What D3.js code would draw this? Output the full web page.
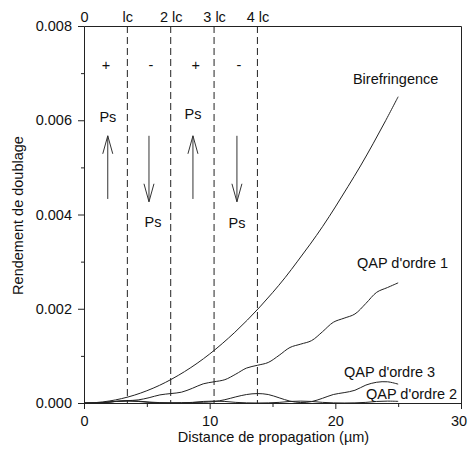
<!DOCTYPE html>
<html><head><meta charset="utf-8">
<script src="https://cdn.jsdelivr.net/npm/d3@7"></script>
<style>
html,body{margin:0;padding:0;background:#fff;}
svg{display:block;}
text{font-family:"Liberation Sans",Arial,sans-serif;fill:#111;}
</style></head>
<body>
<svg id="chart" width="468" height="459"></svg>
<script>
// ---- data ----
const lc = 3.45; // coherence length (µm)
const topTickValues = [0, 1, 2, 3, 4];
const topTickLabels = ["0", "lc", "2 lc", "3 lc", "4 lc"];
const xTicks = [0, 10, 20, 30];
const xMinor = [5, 15, 25];
const yTicks = [0, 0.002, 0.004, 0.006, 0.008];
const yMinor = [0.001, 0.003, 0.005, 0.007];

const biréX = [0,1,2,3,4,5,6,7,8,9,10,11,12,13,14,15,16,17,18,19,20,21,22,23,24,25];
const biréY = [0,0.0000104,0.0000416,0.0000936,0.000166,0.00026,0.000374,0.00051,0.000666,0.000842,
  0.00104,0.00126,0.0015,0.00176,0.00204,0.00234,0.00266,0.00301,0.00337,0.00375,
  0.00416,0.00459,0.00503,0.0055,0.00599,0.0065];

const qapX = [0,0.86,1.73,2.59,3.45,4.31,5.18,6.04,6.9,7.76,8.63,9.49,10.35,11.21,12.08,12.94,
  13.8,14.66,15.53,16.39,17.25,18.11,18.98,19.84,20.7,21.56,22.43,23.29,24.15,25.0];
const qap1 = [0,0.0000011,0.0000125,0.0000364,0.00005,0.0000657,0.0001125,0.0001718,0.0002,0.00023,
  0.0003125,0.000407,0.00045,0.000495,0.0006125,0.000742,0.0008,0.00086,0.0010125,0.001178,
  0.00125,0.001324,0.0015125,0.001713,0.0018,0.001889,0.0021125,0.002349,0.00245,0.00255];
const qap3 = [0,0.000003,0.000013,0.000036,0.00005,0.00004,0.00002,0.000008,0.000005,0.000006,
  0.00001,0.000016,0.00003,0.00007,0.00013,0.00018,0.0002,0.00018,0.00011,0.00004,
  0.00001,0.00003,0.0001,0.00018,0.00022,0.00027,0.00038,0.00044,0.00045,0.0004];
const qap2 = [0,0.000003,0.000013,0.000033,0.00004,0.000033,0.000013,0.000003,0,0.000003,
  0.000013,0.000033,0.00004,0.000033,0.000013,0.000003,0,0.000003,0.000013,0.000033,
  0.00004,0.000033,0.000013,0.000003,0,0.000003,0.000013,0.000033,0.00004,0.000035];

const seriesLabels = [
  {text:"Birefringence", x:21.4, y:0.00688},
  {text:"QAP d'ordre 1", x:21.72, y:0.00297},
  {text:"QAP d'ordre 3", x:20.69, y:0.000664},
  {text:"QAP d'ordre 2", x:22.44, y:0.00019}
];
const signs = [{t:"+", x:1.75, y:0.00717},{t:"-", x:5.33, y:0.00717},{t:"+", x:8.89, y:0.00717},{t:"-", x:12.33, y:0.00717}];
const psLabels = [{x:1.9, y:0.00607},{x:5.49, y:0.00384},{x:8.67, y:0.00613},{x:12.17, y:0.00382}];
const arrows = [
  {x:1.89, from:0.00433, to:0.00567},
  {x:5.17, from:0.00567, to:0.00427},
  {x:8.67, from:0.00433, to:0.00567},
  {x:12.17, from:0.00567, to:0.00427}
];

// ---- scales ----
const svg = d3.select("#chart");
const x = d3.scaleLinear().domain([0, 30]).range([84, 461]);
const y = d3.scaleLinear().domain([0, 0.008]).range([403, 26]);
const stroke = "#222";
const fs = 14.5;

// axes
const gx = svg.append("g").attr("transform", `translate(0,${y(0)})`)
  .call(d3.axisBottom(x).tickValues(xTicks).tickFormat(d3.format("d")).tickSize(6).tickPadding(7).tickSizeOuter(0));
gx.selectAll(".tick text").filter(d => d === 30).attr("dx", -2.5);
svg.append("g").attr("transform", `translate(0,${y(0)})`)
  .call(d3.axisBottom(x).tickValues(xMinor).tickFormat("").tickSize(4).tickSizeOuter(0));
const gy = svg.append("g").attr("transform", `translate(${x(0)},0)`)
  .call(d3.axisLeft(y).tickValues(yTicks).tickFormat(d3.format(".3f")).tickSize(6).tickPadding(6).tickSizeOuter(0));
svg.append("g").attr("transform", `translate(${x(0)},0)`)
  .call(d3.axisLeft(y).tickValues(yMinor).tickFormat("").tickSize(3).tickSizeOuter(0));
const xTop = d3.scaleLinear().domain([0, 30 / lc]).range([84, 461]);
svg.append("g").attr("transform", `translate(0,${y(0.008)})`)
  .call(d3.axisTop(xTop).tickValues(topTickValues).tickFormat((d, i) => topTickLabels[i]).tickSize(0).tickPadding(4).tickSizeOuter(0));
svg.append("g").attr("transform", `translate(${x(30)},0)`)
  .call(d3.axisRight(y).tickValues([]).tickSizeOuter(0));

svg.selectAll(".domain, .tick line").attr("stroke", stroke).attr("stroke-width", 1);
svg.selectAll(".tick text").attr("font-size", fs).attr("font-family", "Liberation Sans, Arial, sans-serif").attr("fill", "#111");

// dashed domain boundaries
svg.append("g").selectAll("line").data(topTickValues.slice(1)).join("line")
  .attr("x1", d => xTop(d)).attr("x2", d => xTop(d))
  .attr("y1", y(0.008)).attr("y2", y(0))
  .attr("stroke", stroke).attr("stroke-width", 1).attr("stroke-dasharray", "7,4");

// curves
const line = d3.line().curve(d3.curveCatmullRom.alpha(0.5));
function drawSeries(xs, ys) {
  svg.append("path").attr("d", line(xs.map((v, i) => [x(v), y(ys[i])])))
    .attr("fill", "none").attr("stroke", stroke).attr("stroke-width", 1);
}
drawSeries(biréX, biréY);
drawSeries(qapX, qap1);
drawSeries(qapX, qap3);
drawSeries(qapX, qap2);

// series labels
svg.append("g").selectAll("text").data(seriesLabels).join("text")
  .attr("x", d => x(d.x)).attr("y", d => y(d.y)).attr("dy", "0.35em")
  .attr("font-size", fs).text(d => d.text);

// signs
svg.append("g").selectAll("text").data(signs).join("text")
  .attr("x", d => x(d.x)).attr("y", d => y(d.y)).attr("dy", "0.35em")
  .attr("text-anchor", "middle").attr("font-size", fs).text(d => d.t);

// Ps labels
svg.append("g").selectAll("text").data(psLabels).join("text")
  .attr("x", d => x(d.x)).attr("y", d => y(d.y)).attr("dy", "0.35em")
  .attr("text-anchor", "middle").attr("font-size", fs).text("Ps");

// arrows
const ga = svg.append("g").attr("stroke", "#333").attr("stroke-width", 1).attr("fill", "none");
arrows.forEach(a => {
  const px = x(a.x), y0 = y(a.from), y1 = y(a.to);
  const dir = y1 < y0 ? 1 : -1; // 1 = pointing up
  ga.append("line").attr("x1", px).attr("x2", px).attr("y1", y0).attr("y2", y1);
  ga.append("path").attr("d", `M${px - 5},${y1 + dir * 18}L${px},${y1}L${px + 5},${y1 + dir * 18}`);
});

// axis titles
svg.append("text").attr("x", (x(0) + x(30)) / 2 + 1).attr("y", 437).attr("dy", "0.35em")
  .attr("text-anchor", "middle").attr("font-size", fs).text("Distance de propagation (µm)");
svg.append("text").attr("transform", `translate(18,${(y(0) + y(0.008)) / 2 + 1}) rotate(-90)`)
  .attr("dy", "0.35em").attr("text-anchor", "middle").attr("font-size", fs).text("Rendement de doublage");
</script>
</body></html>
